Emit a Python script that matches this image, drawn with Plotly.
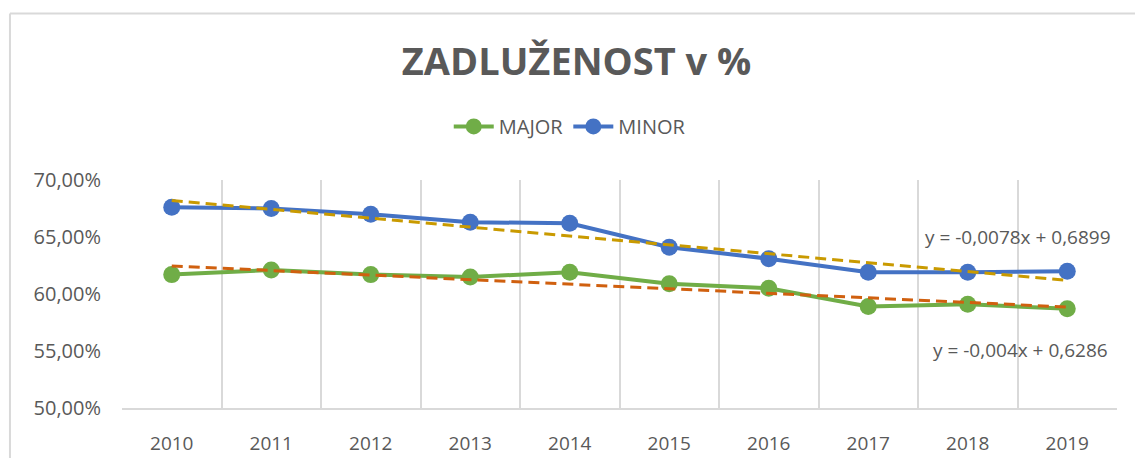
"""Zadluženost v % — MAJOR vs MINOR with linear trendlines."""

import plotly.graph_objects as go

years = ['2010', '2011', '2012', '2013', '2014', '2015', '2016', '2017', '2018', '2019']
major = [0.617, 0.621, 0.617, 0.615, 0.619, 0.609, 0.605, 0.589, 0.591, 0.587]
minor = [0.676, 0.675, 0.670, 0.663, 0.662, 0.641, 0.631, 0.619, 0.619, 0.620]

# trendline coefficients as displayed on the chart (x = 1..n)
major_slope, major_intercept = -0.004, 0.6286
minor_slope, minor_intercept = -0.0078, 0.6899
major_label = 'y = -0,004x + 0,6286'
minor_label = 'y = -0,0078x + 0,6899'

COLORS = dict(
    major='#70AD47',
    minor='#4472C4',
    major_trend='#D0600F',
    minor_trend='#C99A00',
    text='#595959',
    grid='#D9D9D9',
    border='#D9D9D9',
)
FONT = 'Open Sans'

xs = list(range(1, len(years) + 1))
major_trend = [major_intercept + major_slope * x for x in xs]
minor_trend = [minor_intercept + minor_slope * x for x in xs]

fig = go.Figure()

fig.add_trace(go.Scatter(
    x=years, y=major, mode='lines+markers', name='MAJOR',
    line=dict(color=COLORS['major'], width=4),
    marker=dict(size=17, color=COLORS['major']),
))
fig.add_trace(go.Scatter(
    x=years, y=minor, mode='lines+markers', name='MINOR',
    line=dict(color=COLORS['minor'], width=4),
    marker=dict(size=17, color=COLORS['minor']),
))
# dashed trendlines sit on top of the series
fig.add_trace(go.Scatter(
    x=years, y=major_trend, mode='lines', showlegend=False, hoverinfo='skip',
    line=dict(color=COLORS['major_trend'], width=3, dash='11px,6px'),
))
fig.add_trace(go.Scatter(
    x=years, y=minor_trend, mode='lines', showlegend=False, hoverinfo='skip',
    line=dict(color=COLORS['minor_trend'], width=3, dash='11px,6px'),
))

fig.add_annotation(
    text=minor_label, xref='paper', yref='paper', x=0.9, y=0.75,
    xanchor='center', yanchor='middle', showarrow=False,
    font=dict(family=FONT, size=19, color=COLORS['text']),
)
fig.add_annotation(
    text=major_label, xref='paper', yref='paper', x=0.903, y=0.254,
    xanchor='center', yanchor='middle', showarrow=False,
    font=dict(family=FONT, size=19, color=COLORS['text']),
)

# outer chart border (top and left edges visible in the crop)
fig.add_shape(type='line', xref='paper', yref='paper', x0=-0.1126, x1=1.03,
              y0=1.730, y1=1.730, line=dict(color=COLORS['border'], width=2))
fig.add_shape(type='line', xref='paper', yref='paper', x0=-0.1126, x1=-0.1126,
              y0=1.730, y1=-0.25, line=dict(color=COLORS['border'], width=2))

fig.update_layout(
    width=1135,
    height=458,
    separators=', ',
    plot_bgcolor='#FFFFFF',
    paper_bgcolor='#FFFFFF',
    margin=dict(l=122, r=18, t=180, b=50),
    font=dict(family=FONT, color=COLORS['text']),
    title=dict(
        text='<b>ZADLUŽENOST v %</b>',
        x=0.508, xref='container', xanchor='center',
        y=0.865, yanchor='middle',
        font=dict(family=FONT, size=38, color=COLORS['text']),
    ),
    legend=dict(
        orientation='h', x=0.45, xanchor='center', xref='paper',
        y=1.235, yanchor='middle',
        font=dict(family=FONT, size=20, color=COLORS['text']),
        itemwidth=40,
    ),
    xaxis=dict(
        type='category',
        range=[-0.5, 9.5],
        tickson='boundaries',
        showgrid=True, gridcolor=COLORS['grid'], gridwidth=2,
        showline=True, linecolor=COLORS['grid'], linewidth=2,
        ticks='', ticklabelstandoff=17, automargin=False,
        tickfont=dict(family=FONT, size=19, color=COLORS['text']),
    ),
    yaxis=dict(
        range=[0.5, 0.7],
        tickvals=[0.5, 0.55, 0.6, 0.65, 0.7],
        tickformat='.2%',
        showgrid=False, zeroline=False, showline=False,
        ticks='', ticklabelstandoff=20, automargin=False,
        tickfont=dict(family=FONT, size=20, color=COLORS['text']),
    ),
    hovermode=False,
)

fig.write_html('out.html', config=dict(displayModeBar=False),
               post_script="document.body.style.margin='0';")
